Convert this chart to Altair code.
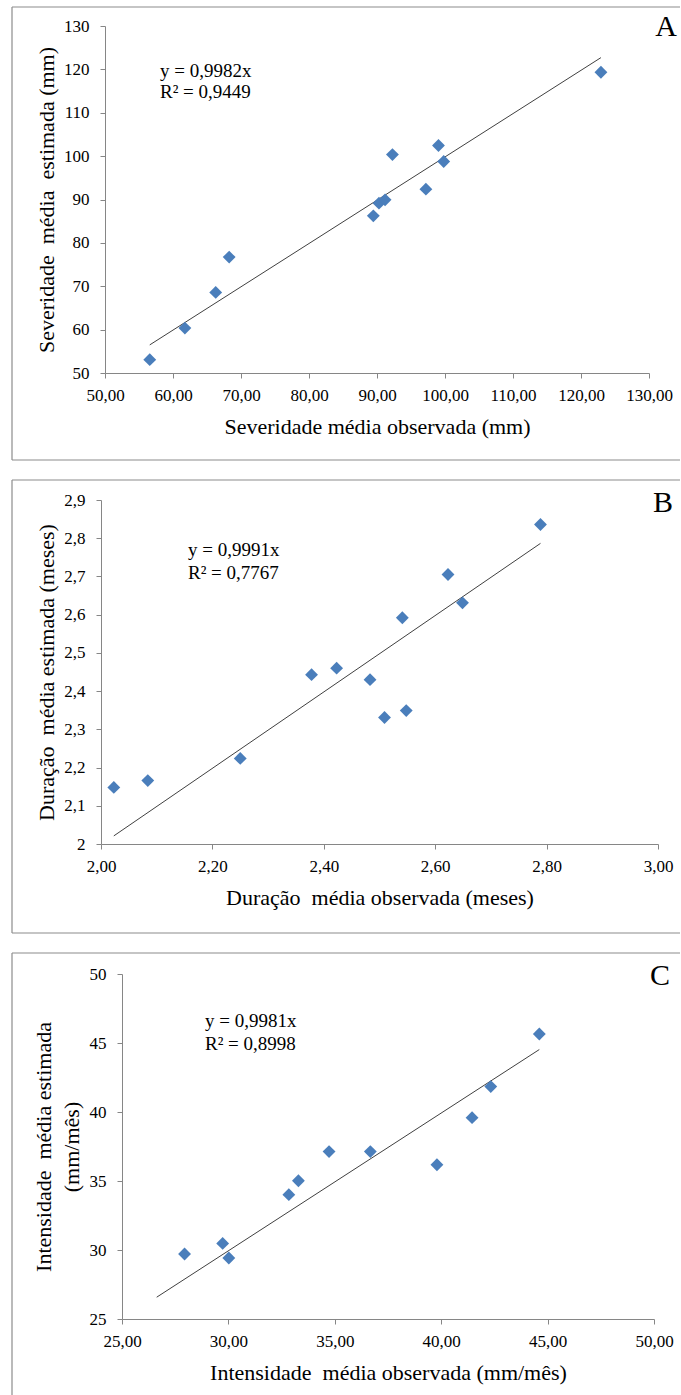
import altair as alt
import pandas as pd

# ---------------- data ----------------
A_obs = [56.58, 61.75, 66.28, 68.26, 89.46, 90.29, 91.19, 92.27, 97.19, 99.04, 99.81, 122.93]
A_est = [53.07, 60.36, 68.58, 76.72, 86.24, 89.16, 89.92, 100.36, 92.38, 102.44, 98.75, 119.33]
A_slope = 0.9982
A_trend_x = [56.58, 122.93]
A_eq = ["y = 0,9982x", "R² = 0,9449"]

B_obs = [2.023, 2.084, 2.250, 2.378, 2.423, 2.483, 2.509, 2.541, 2.548, 2.623, 2.649, 2.789]
B_est = [2.148, 2.166, 2.224, 2.443, 2.460, 2.430, 2.331, 2.592, 2.349, 2.705, 2.631, 2.836]
B_slope = 0.9991
B_trend_x = [2.023, 2.789]
B_eq = ["y = 0,9991x", "R² = 0,7767"]

C_obs = [27.94, 29.73, 30.02, 32.84, 33.29, 34.73, 36.67, 39.80, 41.45, 42.33, 44.61]
C_est = [29.71, 30.48, 29.42, 34.01, 35.02, 37.13, 37.13, 36.18, 39.59, 41.84, 45.65]
C_slope = 0.9981
C_trend_x = [26.63, 44.61]
C_eq = ["y = 0,9981x", "R² = 0,8998"]

A_xticks = [50, 60, 70, 80, 90, 100, 110, 120, 130]
A_yticks = [50, 60, 70, 80, 90, 100, 110, 120, 130]
B_xticks = [2.0, 2.2, 2.4, 2.6, 2.8, 3.0]
B_yticks = [2.0, 2.1, 2.2, 2.3, 2.4, 2.5, 2.6, 2.7, 2.8, 2.9]
C_xticks = [25, 30, 35, 40, 45, 50]
C_yticks = [25, 30, 35, 40, 45, 50]

FONT = "Liberation Serif"
AXIS_GRAY = "#868686"
BOX_GRAY = "#8c8c8c"
POINT_COLOR = "#4A7EBB"
NB = "\u00a0"

X2DEC = "replace(format(datum.value, '.2f'), '.', ',')"
YINT = "format(datum.value, 'd')"
Y1DEC = "replace(format(datum.value, '.1~f'), '.', ',')"

BOX_RIGHT = 668  # box right end, relative to box left


def panel(obs, est, slope, trend_x, eq, letter, xdom, xticks, ydom, yticks,
          xfmt, yfmt, xtitle, ytitle, w, h, dx, dy, box_bottom,
          ytitle_x, eq_x, eq_y, letter_x, letter_y, draw_bottom=True):
    """Group origin = top-left corner of the panel box; plot area at (dx, dy)."""
    pts = pd.DataFrame({"obs": obs, "est": est})
    trend = pd.DataFrame({"obs": trend_x, "est": [slope * v for v in trend_x]})

    common = dict(grid=False, tickSize=5, labelFontSize=17, titleFontSize=22,
                  labelOverlap=False, labelFlush=False, labelBound=False,
                  titleBaseline="middle", titleAlign="center")
    xenc = alt.X("obs:Q",
                 scale=alt.Scale(domain=xdom, nice=False, zero=False,
                                 range=[dx, dx + w]),
                 axis=alt.Axis(values=xticks, labelExpr=xfmt, title=xtitle,
                               titleX=dx + w / 2, titleY=53, labelPadding=9,
                               **common))
    yenc = alt.Y("est:Q",
                 scale=alt.Scale(domain=ydom, nice=False, zero=False,
                                 range=[dy + h, dy]),
                 axis=alt.Axis(values=yticks, labelExpr=yfmt, title=ytitle,
                               offset=-dx, titleX=ytitle_x, titleY=dy + h / 2,
                               titleAngle=270, labelPadding=11,
                               titleLineHeight=28, **common))

    line = alt.Chart(trend).mark_line(color="#404040", strokeWidth=1).encode(
        x=xenc, y=yenc)
    points = alt.Chart(pts).mark_point(shape="diamond", filled=True,
                                       color=POINT_COLOR, size=165,
                                       opacity=1).encode(x=xenc, y=yenc)

    base = alt.Chart(pd.DataFrame({"d": [0]}))
    eq1 = base.mark_text(align="left", baseline="middle", font=FONT,
                         fontSize=19, color="black").encode(
        x=alt.value(eq_x), y=alt.value(eq_y[0]), text=alt.value(eq[0]))
    eq2 = base.mark_text(align="left", baseline="middle", font=FONT,
                         fontSize=19, color="black").encode(
        x=alt.value(eq_x), y=alt.value(eq_y[1]), text=alt.value(eq[1]))
    let = base.mark_text(align="center", baseline="middle", font=FONT,
                         fontSize=30, color="black").encode(
        x=alt.value(letter_x), y=alt.value(letter_y), text=alt.value(letter))

    r_left = base.mark_rule(color=BOX_GRAY, strokeWidth=1.2).encode(
        x=alt.value(0), x2=alt.value(0), y=alt.value(0), y2=alt.value(box_bottom))
    r_top = base.mark_rule(color=BOX_GRAY, strokeWidth=1.2).encode(
        x=alt.value(0), x2=alt.value(BOX_RIGHT), y=alt.value(0), y2=alt.value(0))
    layers = [r_left, r_top]
    if draw_bottom:
        r_bot = base.mark_rule(color=BOX_GRAY, strokeWidth=1.2).encode(
            x=alt.value(0), x2=alt.value(BOX_RIGHT), y=alt.value(box_bottom),
            y2=alt.value(box_bottom))
        layers.append(r_bot)

    return alt.layer(line, points, *layers, eq1, eq2, let).properties(
        width=dx + w, height=dy + h)


pA = panel(A_obs, A_est, A_slope, A_trend_x, A_eq, "A", [50, 130], A_xticks,
           [50, 130], A_yticks, X2DEC, YINT,
           "Severidade média observada (mm)",
           "Severidade" + NB + " média" + NB + " estimada (mm)",
           w=544, h=347, dx=93, dy=19, box_bottom=453,
           ytitle_x=-59, eq_x=148, eq_y=[64, 85], letter_x=654, letter_y=20)

pB = panel(B_obs, B_est, B_slope, B_trend_x, B_eq, "B", [2.0, 3.0], B_xticks,
           [2.0, 2.9], B_yticks, X2DEC, Y1DEC,
           "Duração" + NB + " média observada (meses)",
           "Duração" + NB + " média estimada (meses)",
           w=557, h=344, dx=89, dy=20, box_bottom=453,
           ytitle_x=-55, eq_x=176, eq_y=[70, 93], letter_x=651, letter_y=23)

pC = panel(C_obs, C_est, C_slope, C_trend_x, C_eq, "C", [25, 50], C_xticks,
           [25, 50], C_yticks, X2DEC, YINT,
           "Intensidade" + NB + " média observada (mm/mês)",
           ["Intensidade" + NB + " média estimada", "(mm/mês)"],
           w=532, h=345, dx=110, dy=21, box_bottom=442,
           ytitle_x=-79, eq_x=193, eq_y=[68, 91], letter_x=648, letter_y=23,
           draw_bottom=False)

chart = alt.vconcat(pA, pB, pC, spacing=18).properties(
    padding={"left": 11, "top": 6, "right": 0, "bottom": 0},
    background="white",
).configure_view(strokeWidth=0).configure_axis(
    labelFont=FONT, titleFont=FONT, labelColor="black", titleColor="black",
    titleFontWeight="normal", domainColor=AXIS_GRAY, tickColor=AXIS_GRAY,
    domainWidth=1, tickWidth=1,
)

chart.save("out.html", embed_options={"renderer": "svg", "actions": False})
